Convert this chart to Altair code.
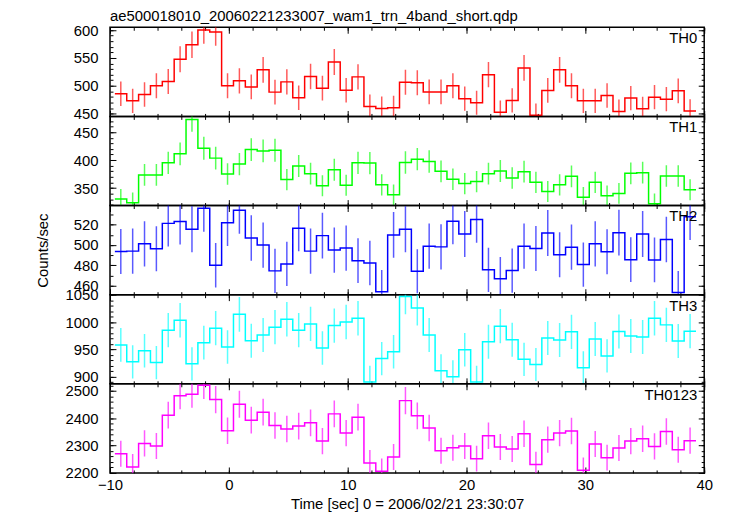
import altair as alt
import pandas as pd
import numpy as np

FONT = "Liberation Sans"
title_text = "ae500018010_20060221233007_wam1_trn_4band_short.qdp"
x_title = "Time [sec] 0 = 2006/02/21 23:30:07"
y_title = "Counts/sec"
panel_names = ["TH0", "TH1", "TH2", "TH3", "TH0123"]
colors = ["#ff0000", "#00ff00", "#0000ff", "#00ffff", "#ff00ff"]

bin_start = -9.59
bin_width = 0.998
n_bins = 49

th0 = [485.7, 473, 484.4, 500, 507.7, 547.5, 573.7, 600, 596.4, 500, 508.9, 498, 528.6,
       488.6, 507, 478.6, 516.6, 495.7, 542.8, 492, 516, 463, 459.4, 460.7, 506.4, 505.3,
       489, 489, 500, 476.8, 469.6, 520, 452.3, 473.7, 532, 447, 491.6, 528.6, 500, 473,
       473, 482.7, 454, 477.9, 458.9, 479.6, 476, 491, 454.6]
th1 = [330.5, 324.1, 373.6, 373.6, 395.3, 411.2, 472.4, 421.2, 403.6, 375.3, 393, 418.8,
       416.5, 417.7, 365.3, 389.5, 375.9, 354.2, 383, 355.3, 395.3, 394.8, 355.9, 338.3,
       395.8, 401.8, 397.6, 380, 365.8, 358.2, 361.8, 375.9, 380.6, 368.3, 379.4, 360.5,
       344.1, 355.9, 371.1, 334, 360.5, 336.5, 340.6, 376.5, 377.6, 322.4, 371.8, 371.8, 347.1]
th2 = [493.7, 494, 501.2, 496.3, 521.4, 523.3, 515.5, 536.3, 480, 522, 534.3, 507, 500,
       474.5, 481.4, 516.5, 494, 509.3, 495, 497, 484.6, 482.3, 454, 510, 515.7, 474.1,
       498.9, 498.2, 523.6, 510.9, 525.3, 475.5, 466.7, 474.8, 498.9, 496.6, 511.9, 490.4,
       497.9, 480.7, 501.2, 493.4, 512.2, 485.6, 510.9, 485.3, 505.4, 453.1, 528]
th3 = [958.2, 927.3, 947.8, 926, 985.4, 1003.6, 923.6, 962.4, 989, 954.5, 1014.5, 966,
       976.4, 990.9, 1005.5, 985.4, 996.9, 952.7, 993.8, 1000.5, 1007.3, 890.2, 933.3, 946,
       1047, 1026, 976.4, 910.9, 900, 949.6, 890.2, 964.2, 992.7, 967.8, 932, 922.4, 970.9,
       967.3, 982.4, 916.4, 969.1, 938.2, 982.9, 974.5, 972.7, 1007.3, 995.1, 965.5, 983.6]
th0123 = [2269.7, 2221, 2307.3, 2297.8, 2411, 2482.5, 2487.6, 2520.5, 2468, 2353.6, 2451,
          2392.7, 2421.9, 2373, 2359.8, 2370.8, 2382.8, 2316, 2415.7, 2345.2, 2403.6, 2235.7,
          2205, 2257.6, 2464.3, 2408.4, 2363.5, 2280.6, 2291.6, 2297.8, 2251.4, 2335.4,
          2294.1, 2286.8, 2342.7, 2229.6, 2320.8, 2345.2, 2352.5, 2208.7, 2305.1, 2255,
          2290.5, 2316, 2324.4, 2296.3, 2351.1, 2284.3, 2317.1]
series = [th0, th1, th2, th3, th0123]

y_domains = [[445, 605], [319, 478], [451, 539], [887, 1050.5], [2199, 2526]]
y_major = [[450, 500, 550, 600], [350, 400, 450], [460, 480, 500, 520],
           [900, 950, 1000, 1050], [2200, 2300, 2400, 2500]]
y_minor = [list(range(450, 601, 10)), list(range(320, 471, 10)), list(range(460, 531, 10)),
           list(range(890, 1051, 10)), list(range(2200, 2521, 20))]
x_major = [-10, 0, 10, 20, 30, 40]
x_minor = list(range(-10, 41, 2))

W, H = 600, 90


def tick_axis(orient, offset, values, size):
    return alt.Axis(orient=orient, offset=offset, values=values, labels=False,
                    tickSize=size, tickColor="black", tickWidth=1, domain=False,
                    grid=False, title=None)


def panel(i):
    vals = series[i]
    edges = [round(bin_start + bin_width * k, 4) for k in range(n_bins + 1)]
    centers = [round(bin_start + bin_width * (k + 0.5), 4) for k in range(n_bins)]
    step_df = pd.DataFrame({"t": edges, "v": vals + [vals[-1]]})
    v = np.array(vals, dtype=float)
    err = np.sqrt(v)
    bar_df = pd.DataFrame({"t": centers, "v": v, "lo": v - err, "hi": v + err})

    xs = alt.Scale(domain=[-10, 40], nice=False, zero=False)
    ys = alt.Scale(domain=y_domains[i], nice=False, zero=False)
    col = colors[i]
    bottom = i == len(series) - 1

    y_lab = alt.Axis(orient="left", values=y_major[i], format="d", ticks=False, domain=False,
                     grid=False, labelPadding=12, labelOverlap=False, labelFont=FONT,
                     labelFontSize=15, labelColor="black",
                     title=y_title if i == 2 else None, titleFont=FONT, titleFontSize=15,
                     titleFontWeight="normal", titleColor="black", titleX=-60)
    if bottom:
        x_enc = alt.X("t:Q", scale=xs, axis=alt.Axis(
            orient="bottom", values=x_major, format="d", ticks=False, domain=False,
            grid=False, labelPadding=5, labelFlush=False, labelOverlap=False, labelFont=FONT,
            labelFontSize=15, labelColor="black", title=x_title, titleFont=FONT,
            titleFontSize=15, titleFontWeight="normal", titleColor="black", titlePadding=4))
    else:
        x_enc = alt.X("t:Q", scale=xs, axis=None)

    line = alt.Chart(step_df).mark_line(interpolate="step-after", color=col,
                                        strokeWidth=1.5, clip=True).encode(
        x=x_enc, y=alt.Y("v:Q", scale=ys, axis=y_lab))

    rules = alt.Chart(bar_df).mark_rule(color=col, strokeWidth=1.5, opacity=0.65,
                                        clip=True).encode(
        x=alt.X("t:Q", scale=xs, axis=tick_axis("top", -H, x_major, 6)),
        y=alt.Y("lo:Q", scale=ys, axis=tick_axis("right", -W, y_major[i], 6)),
        y2="hi:Q")

    def ghost(xa, ya):
        return alt.Chart(bar_df).mark_point(opacity=0).encode(
            x=alt.X("t:Q", scale=xs, axis=xa), y=alt.Y("v:Q", scale=ys, axis=ya))

    g1 = ghost(tick_axis("top", -H, x_minor, 3), tick_axis("right", -W, y_minor[i], 3))
    g2 = ghost(tick_axis("bottom", -H, x_major, 6), tick_axis("left", -W, y_major[i], 6))
    g3 = ghost(tick_axis("bottom", -H, x_minor, 3), tick_axis("left", -W, y_minor[i], 3))

    label = alt.Chart(pd.DataFrame({"name": [panel_names[i]]})).mark_text(
        align="right", baseline="middle", font=FONT, fontSize=15, color="black").encode(
        text="name:N", x=alt.value(W - 7), y=alt.value(11))

    ch = alt.layer(line, rules, g1, g2, g3, label).resolve_axis(
        x="independent", y="independent").properties(width=W, height=H)
    if i == 0:
        ch = ch.properties(title=alt.TitleParams(
            text=title_text, anchor="start", frame="group", font=FONT, fontSize=15,
            fontWeight="normal", color="black", offset=-0.5))
    return ch


chart = alt.vconcat(*[panel(i) for i in range(5)], spacing=0, bounds="flush").properties(
    padding={"left": 27, "top": -3, "right": 10, "bottom": 0},
    background="white",
).configure_view(stroke="black", strokeWidth=1.5)

chart.save("out.html", embed_options={"renderer": "svg", "actions": False})
